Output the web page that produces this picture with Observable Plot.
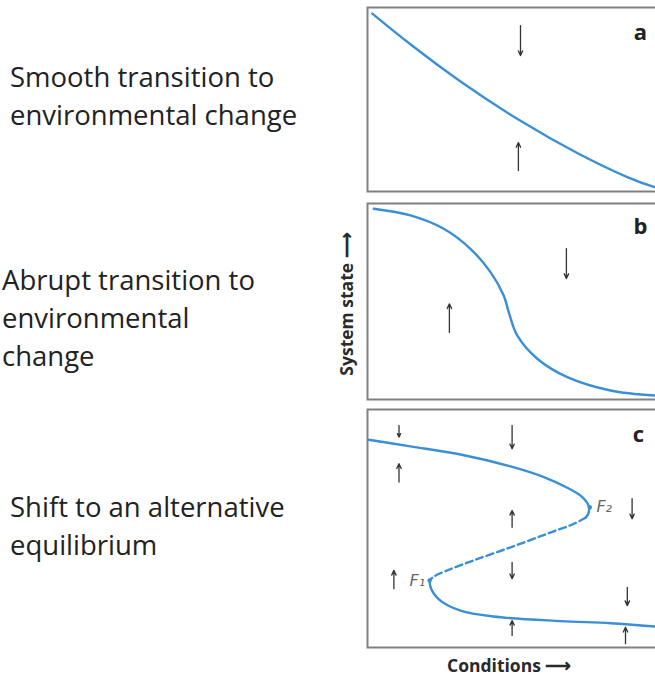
<!DOCTYPE html>
<html>
<head>
<meta charset="utf-8">
<script src="https://cdn.jsdelivr.net/npm/d3@7"></script>
<script src="https://cdn.jsdelivr.net/npm/@observablehq/plot@0.6"></script>
<style>
  html, body { margin: 0; padding: 0; background: #fff; overflow: hidden; }
  #root { position: relative; width: 655px; height: 677px; overflow: hidden; font-family: "Open Sans", sans-serif; }
  .side { position: absolute; left: 0; color: #222; font-size: 27.5px; line-height: 38px; white-space: nowrap; }
  .panel { position: absolute; left: 365px; width: 304px; }
  .panel svg { display: block; max-width: none !important; width: 304px; }
  #ylab { position: absolute; left: 346px; top: 304px; transform: translate(-50%, -50%) rotate(-90deg); font-weight: 700; font-size: 17.5px; color: #2a2a2a; white-space: nowrap; }
  #xlab { position: absolute; left: 447px; top: 653px; font-weight: 700; font-size: 17.5px; color: #2a2a2a; white-space: nowrap; }
</style>
</head>
<body>
<div id="root"></div>
<script>
// ---- data (conditions 0..1 left→right, system state 0..1 bottom→top, per panel) ----
const panelLetters = ["a", "b", "c"];
const sideLabels = [
  ["Smooth transition to", "environmental change"],
  ["Abrupt transition to", "environmental", "change"],
  ["Shift to an alternative", "equilibrium"]
];
const axisLabelY = "System state \u27F6";
const axisLabelX = "Conditions \u27F6";

// Panel a: smooth equilibrium curve
const curveAx = [0.016, 0.143, 0.31, 0.51, 0.699, 0.866, 0.96];
const curveAy = [0.967, 0.80, 0.598, 0.384, 0.209, 0.078, 0.022];
// Panel b: abrupt (steep) equilibrium curve
const curveBx = [0.021, 0.143, 0.254, 0.343, 0.41, 0.454, 0.471, 0.499, 0.566, 0.666, 0.81, 0.96];
const curveBy = [0.973, 0.939, 0.871, 0.769, 0.65, 0.531, 0.445, 0.327, 0.208, 0.114, 0.046, 0.02];
// Panel c: folded curve — upper stable branch, unstable (dashed) branch, lower stable branch
const upperCx = [0.004, 0.143, 0.31, 0.477, 0.588, 0.666, 0.716, 0.738, 0.736, 0.727];
const upperCy = [0.873, 0.845, 0.811, 0.761, 0.716, 0.671, 0.632, 0.592, 0.562, 0.545];
const middleCx = [0.727, 0.688, 0.599, 0.477, 0.354, 0.266, 0.221, 0.207];
const middleCy = [0.545, 0.52, 0.478, 0.421, 0.366, 0.324, 0.298, 0.282];
const lowerCx = [0.207, 0.212, 0.243, 0.31, 0.421, 0.643, 0.81, 0.96];
const lowerCy = [0.282, 0.247, 0.197, 0.155, 0.13, 0.111, 0.102, 0.088];
// Fold (bifurcation) points
const foldNames = ["F\u2082", "F\u2081"];
const foldX = [0.741, 0.207];
const foldY = [0.589, 0.282];
const foldLabelX = [0.763, 0.14];

// Arrows: x, y start, y end
const arrowsA = { x: [0.51, 0.503], y1: [0.902, 0.114], y2: [0.739, 0.266] };
const arrowsB = { x: [0.273, 0.663], y1: [0.343, 0.77], y2: [0.488, 0.617] };
const arrowsC = {
  x:  [0.105, 0.105, 0.482, 0.482, 0.882, 0.482, 0.088, 0.866, 0.482, 0.86],
  y1: [0.933, 0.695, 0.933, 0.505, 0.625, 0.358, 0.247, 0.253, 0.05, 0.016],
  y2: [0.884, 0.772, 0.835, 0.576, 0.541, 0.289, 0.324, 0.176, 0.113, 0.085]
};
const letterX = [0.91, 0.91, 0.903];
const letterY = [0.86, 0.88, 0.891];

// ---- build ----
const zip = (xs, ys) => xs.map((x, i) => ({x, y: ys[i]}));
const arrowRows = (a) => a.x.map((x, i) => ({x, y1: a.y1[i], y2: a.y2[i]}));
const BLUE = "#3a8fd6";
const root = document.getElementById("root");

const panels = [
  {top: 5, height: 188, lines: [{d: zip(curveAx, curveAy), curve: "natural"}], arrows: arrowRows(arrowsA)},
  {top: 201, height: 200, lines: [{d: zip(curveBx, curveBy), curve: "catmull-rom"}], arrows: arrowRows(arrowsB)},
  {top: 407, height: 242, lines: [
     {d: zip(upperCx, upperCy), curve: "catmull-rom"},
     {d: zip(middleCx, middleCy), curve: "catmull-rom", dash: "7,4"},
     {d: zip(lowerCx, lowerCy), curve: "catmull-rom"}
   ], arrows: arrowRows(arrowsC), folds: true}
];

panels.forEach((p, i) => {
  const marks = [
    Plot.frame({stroke: "#808080", strokeWidth: 2}),
    ...p.lines.map(l => Plot.line(l.d, {x: "x", y: "y", curve: l.curve, stroke: BLUE, strokeWidth: 2.4, strokeDasharray: l.dash})),
    Plot.arrow(p.arrows, {x1: "x", x2: "x", y1: "y1", y2: "y2", stroke: "#333", strokeWidth: 1.3, headLength: 6, headAngle: 50}),
    Plot.text([panelLetters[i]], {x: () => letterX[i], y: () => letterY[i], text: d => d, fontSize: 22, fontWeight: 700, fill: "#222", fontFamily: "Open Sans"})
  ];
  if (p.folds) {
    const folds = foldNames.map((n, k) => ({n, x: foldX[k], y: foldY[k], lx: foldLabelX[k]}));
    marks.push(Plot.dot(folds, {x: "x", y: "y", r: 2.2, fill: BLUE, stroke: "none"}));
    marks.push(Plot.text(folds, {x: "lx", y: "y", text: "n", textAnchor: "start", fontSize: 16, fontStyle: "italic", fill: "#666", fontFamily: "DejaVu Sans"}));
  }
  const svg = Plot.plot({
    width: 304, height: p.height,
    marginLeft: 2, marginRight: 2, marginTop: 2, marginBottom: 2,
    x: {domain: [0, 1], axis: null},
    y: {domain: [0, 1], axis: null},
    style: {background: "transparent", overflow: "visible", maxWidth: "none"},
    marks
  });
  const wrap = document.createElement("div");
  wrap.className = "panel";
  wrap.style.top = p.top + "px";
  wrap.appendChild(svg);
  root.appendChild(wrap);
});

// side labels
const sideTops = [58, 261, 488];
const sideLefts = [10, 2, 10];
sideLabels.forEach((lines, i) => {
  const d = document.createElement("div");
  d.className = "side";
  d.style.top = sideTops[i] + "px";
  d.style.left = sideLefts[i] + "px";
  d.innerHTML = lines.join("<br>");
  root.appendChild(d);
});

const yl = document.createElement("div");
yl.id = "ylab"; yl.textContent = axisLabelY; root.appendChild(yl);
const xl = document.createElement("div");
xl.id = "xlab"; xl.textContent = axisLabelX; root.appendChild(xl);
</script>
</body>
</html>
